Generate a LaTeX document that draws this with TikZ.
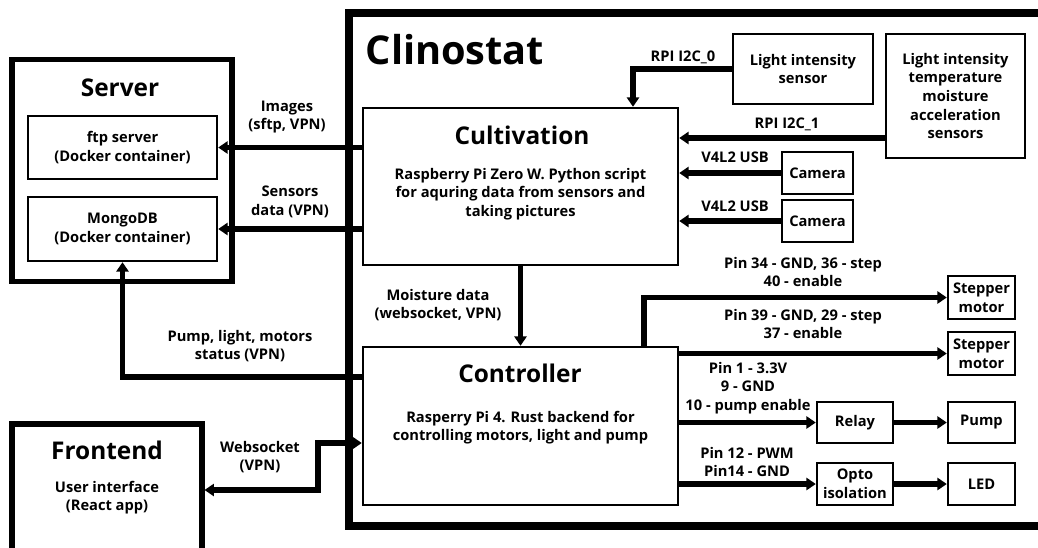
\documentclass[tikz,border=0pt]{standalone}
\usepackage{fontspec}
\setmainfont{Open Sans}
\usetikzlibrary{arrows.meta}
\begin{document}
\begin{tikzpicture}[x=0.75pt,y=-0.75pt,
  every node/.style={font=\bfseries\fontsize{11pt}{14pt}\selectfont, align=center, inner sep=0pt},
  box/.style={draw, line width=1.8pt, rectangle},
  outer/.style={draw, line width=3.8pt, rectangle},
  conn/.style={line width=4pt, -{Triangle[length=7pt,width=9pt]}},
  ttl/.style={font=\bfseries\fontsize{18.3pt}{20pt}\selectfont},
  lbl/.style={font=\bfseries\fontsize{11pt}{14pt}\selectfont}]
\useasboundingbox (0,0) rectangle (1038,547);
% Clinostat container
\draw[line width=6pt] (349,13) rectangle (1090,526);
\node[font=\bfseries\fontsize{29.8pt}{32pt}\selectfont] (clintitle) at (455,50) {Clinostat};
% Server
\node[outer, minimum width=165pt, minimum height=167pt] (server) at (122,170.5) {};
\node[ttl] (servertitle) at (120,88) {Server};
\node[box, minimum width=141.75pt, minimum height=47.25pt] (ftp) at (122.5,147.5) {ftp server\\(Docker container)};
\node[box, minimum width=141.75pt, minimum height=48pt] (mongo) at (122.5,229) {MongoDB\\(Docker container)};
% Frontend
\node[outer, minimum width=142.5pt, minimum height=132pt] (front) at (107,512) {};
\node[ttl] (fronttitle) at (107,450) {Frontend};
\node (frontbody) at (107,497.5) {User interface\\(React app)};
% Cultivation
\node[box, minimum width=236.25pt, minimum height=117.75pt] (cult) at (520.5,186.5) {};
\node[ttl] (culttitle) at (522,135) {Cultivation};
\node (cultbody) at (520.5,194) {Raspberry Pi Zero W. Python script\\for aquring data from sensors and\\taking pictures};
% Controller
\node[box, minimum width=236.25pt, minimum height=118.5pt] (ctrl) at (520.5,426) {};
\node[ttl] (ctrltitle) at (520,373) {Controller};
\node (ctrlbody) at (520.5,427.5) {Rasperry Pi 4. Rust backend for\\controlling motors, light and pump};
% sensors
\node[box, minimum width=105pt, minimum height=52.5pt] (lis) at (803,69) {Light intensity\\sensor};
\node[box, minimum width=104.25pt, minimum height=93pt] (sens) at (955.5,96) {Light intensity\\temperature\\moisture\\acceleration\\sensors};
\node[box, minimum width=53.25pt, minimum height=31.5pt] (cam1) at (817.5,173) {Camera};
\node[box, minimum width=53.25pt, minimum height=31.5pt] (cam2) at (817.5,221) {Camera};
% actuators
\node[box, minimum width=50.25pt, minimum height=32.25pt] (step1) at (981.5,297.5) {Stepper\\motor};
\node[box, minimum width=50.25pt, minimum height=32.25pt] (step2) at (981.5,353.5) {Stepper\\motor};
\node[box, minimum width=57pt, minimum height=30.75pt] (relay) at (855,422.5) {Relay};
\node[box, minimum width=50.25pt, minimum height=30.75pt] (pump) at (981.5,422.5) {Pump};
\node[box, minimum width=57pt, minimum height=31.5pt] (opto) at (855,484) {Opto\\isolation};
\node[box, minimum width=50.25pt, minimum height=31.5pt] (led) at (981.5,484) {LED};
% helper coordinates
\coordinate (i2c0) at (633,0);
\coordinate (s1) at (0,138);
\coordinate (k1) at (644,0);
\coordinate (p1) at (0,377);
\coordinate (w1) at (318,490);
\coordinate (w2) at (318,443);
% connectors
\draw[conn] (cult.west |- ftp.east) -- (ftp.east);
\draw[conn] (cult.west |- mongo.east) -- (mongo.east);
\draw[conn] (lis.west) -| (i2c0 |- cult.north);
\draw[conn] (sens.west |- s1) -- (cult.east |- s1);
\draw[conn] (cam1.west) -- (cult.east |- cam1.west);
\draw[conn] (cam2.west) -- (cult.east |- cam2.west);
\draw[conn] (cult.south) -- (ctrl.north);
\draw[conn] (k1 |- ctrl.north) |- (step1.west);
\draw[conn] (ctrl.east |- step2.west) -- (step2.west);
\draw[conn] (ctrl.east |- relay.west) -- (relay.west);
\draw[conn] (relay.east) -- (pump.west);
\draw[conn] (ctrl.east |- opto.west) -- (opto.west);
\draw[conn] (opto.east) -- (led.west);
\draw[conn] (ctrl.west |- p1) -| (mongo.south);
\draw[conn, {Triangle[length=7pt,width=9pt]}-{Triangle[length=7pt,width=9pt]}] (front.east |- w1) -- (w1) -- (w2) -- (ctrl.west |- w2);
% labels
\node[lbl] (limg) at (287,117) {Images\\(sftp, VPN)};
\node[lbl] (lsen) at (290,202) {Sensors\\data (VPN)};
\node[lbl] (li2c0) at (683,57) {RPI I2C\_0};
\node[lbl] (li2c1) at (787,124) {RPI I2C\_1};
\node[lbl] (lusb1) at (735,157) {V4L2 USB};
\node[lbl] (lusb2) at (735,206) {V4L2 USB};
\node[lbl] (lpin34) at (803,272) {Pin 34 - GND, 36 - step\\40 - enable};
\node[lbl] (lpin39) at (803,324) {Pin 39 - GND, 29 - step\\37 - enable};
\node[lbl] (lpin1) at (748,388) {Pin 1 - 3.3V\\9 - GND\\10 - pump enable};
\node[lbl] (lpin12) at (747,462) {Pin 12 - PWM\\Pin14 - GND};
\node[lbl] (lmoist) at (438,305) {Moisture data\\(websocket, VPN)};
\node[lbl] (lpump) at (240,346) {Pump, light, motors\\status (VPN)};
\node[lbl] (lws) at (260,457) {Websocket\\(VPN)};
\end{tikzpicture}
\end{document}
